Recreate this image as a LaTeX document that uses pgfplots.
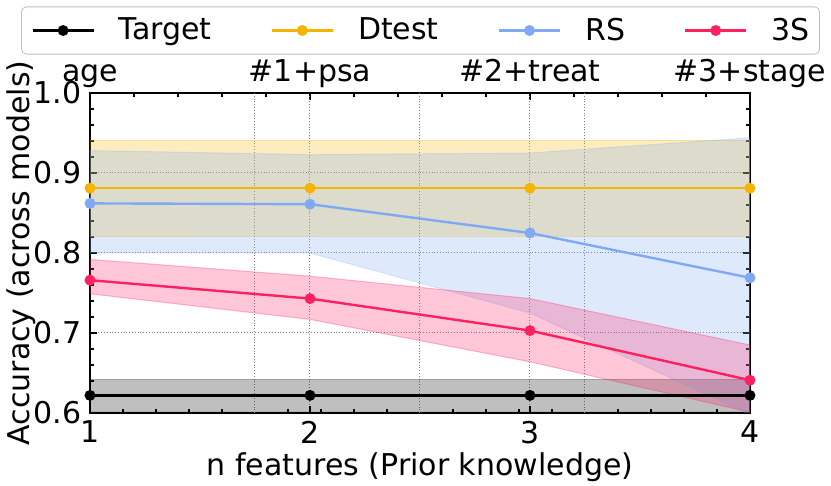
\documentclass[border=0pt]{standalone}
\usepackage{fontspec}
\setmainfont{DejaVu Sans}
\usepackage{pgfplots}
\pgfplotsset{compat=1.18}
\definecolor{cT}{HTML}{000000}
\definecolor{cD}{HTML}{F4B400}
\definecolor{cR}{HTML}{7FA9F5}
\definecolor{cS}{HTML}{FF2060}
\newcommand{\ff}{\fontsize{15}{18}\selectfont}
\begin{document}
\begin{tikzpicture}
\useasboundingbox (-45pt,-36.5pt) rectangle (370.5pt,206.5pt);
% top axis (labels and ticks)
\begin{axis}[
  at={(0pt,0pt)}, anchor=south west,
  scale only axis, width=330pt, height=160pt,
  xmin=1, xmax=4, ymin=0.6, ymax=1.0,
  hide y axis,
  axis line style={line width=0.8pt},
  xtick={1,2,3,4},
  xticklabels={age,\#1+psa,\#2+treat,\#3+stage},
  minor x tick num=4,
  xtick pos=right, xticklabel pos=right,
  tick align=inside,
  major tick length=3.5pt, minor tick length=2pt,
  tick style={line width=0.7pt, black},
  every tick label/.append style={font=\ff, inner sep=0pt},
  xticklabel style={anchor=base, yshift=5.5pt},
]
\end{axis}
\begin{axis}[
  at={(0pt,0pt)}, anchor=south west,
  scale only axis, width=330pt, height=160pt,
  xmin=1, xmax=4, ymin=0.6, ymax=1.0,
  axis line style={line width=0.8pt},
  /pgf/number format/assume math mode=true,
  xtick={1,2,3,4},
  minor xtick={1.15,1.3,1.45,1.6,1.9,2.05,2.2,2.35,2.65,2.8,2.95,3.1,3.4,3.55,3.7,3.85},
  extra x ticks={1.75,2.5,3.25},
  extra x tick labels={},
  extra x tick style={grid=major, major tick length=0pt},
  xtick pos=left,
  ytick={0.6,0.7,0.8,0.9,1.0},
  minor ytick={0.62,0.64,0.66,0.68,0.72,0.74,0.76,0.78,0.82,0.84,0.86,0.88,0.92,0.94,0.96,0.98},
  ytick pos=both, yticklabel pos=left,
  yticklabel style={/pgf/number format/fixed, /pgf/number format/precision=1, /pgf/number format/fixed zerofill},
  tick align=inside,
  major tick length=3.5pt, minor tick length=2pt,
  tick style={line width=0.7pt, black},
  every tick label/.append style={font=\ff, inner sep=0pt},
  xticklabel style={anchor=north, yshift=-3.85pt},
  yticklabel style={anchor=east, xshift=-4pt},
  xmajorgrids, ymajorgrids,
  major grid style={densely dotted, line width=0.5pt, black!50},
  xlabel={n features (Prior knowledge)},
  ylabel={Accuracy (across models)},
  every axis x label/.style={at={(axis description cs:0.5,-0.194)}, anchor=base, font=\ff},
  every axis y label/.style={at={(axis description cs:-0.1045,0.5)}, rotate=90, anchor=center, inner sep=0pt, font=\ff},
  legend columns=4,
  legend image code/.code={\draw[mark repeat=2,mark phase=2,#1] plot coordinates {(0pt,0pt) (15.25pt,0pt) (30.5pt,0pt)};},
  legend style={at={(0.5008,1.1953)}, anchor=center, draw=black!25, rounded corners=2.5pt,
    font=\ff, inner xsep=5pt, inner ysep=5.5pt, nodes={inner sep=0pt},
    /tikz/every odd column/.append style={column sep=12pt},
    /tikz/every even column/.append style={column sep=29.5pt}},
]
% bands
\addplot[forget plot, fill=black, fill opacity=0.25, draw=black, draw opacity=0.25, line width=0.5pt]
  coordinates {(1,0.642) (2,0.642) (3,0.642) (4,0.642) (4,0.602) (3,0.602) (2,0.602) (1,0.602)} -- cycle;
\addplot[forget plot, fill=cD, fill opacity=0.25, draw=cD, draw opacity=0.25, line width=0.5pt]
  coordinates {(1,0.941) (2,0.941) (3,0.941) (4,0.941) (4,0.820) (3,0.820) (2,0.820) (1,0.820)} -- cycle;
\addplot[forget plot, fill=cR, fill opacity=0.25, draw=cR, draw opacity=0.25, line width=0.5pt]
  coordinates {(1,0.928) (2,0.923) (3,0.925) (4,0.944) (4,0.598) (3,0.725) (2,0.800) (1,0.800)} -- cycle;
\addplot[forget plot, fill=cS, fill opacity=0.25, draw=cS, draw opacity=0.3, line width=0.5pt]
  coordinates {(1,0.792) (2,0.771) (3,0.743) (4,0.685) (4,0.601) (3,0.664) (2,0.717) (1,0.749)} -- cycle;
% lines
\addplot[cT, line width=1.2pt, mark=*, mark size=2.1pt] coordinates {(1,0.622) (2,0.622) (3,0.622) (4,0.622)};
\addlegendentry{Target}
\addplot[cD, line width=1.2pt, mark=*, mark size=2.1pt] coordinates {(1,0.881) (2,0.881) (3,0.881) (4,0.881)};
\addlegendentry{Dtest}
\addplot[cR, line width=1.2pt, mark=*, mark size=2.1pt] coordinates {(1,0.862) (2,0.861) (3,0.825) (4,0.769)};
\addlegendentry{RS}
\addplot[cS, line width=1.2pt, mark=*, mark size=2.1pt] coordinates {(1,0.766) (2,0.743) (3,0.703) (4,0.641)};
\addlegendentry{3S}
\end{axis}
\end{tikzpicture}
\end{document}
